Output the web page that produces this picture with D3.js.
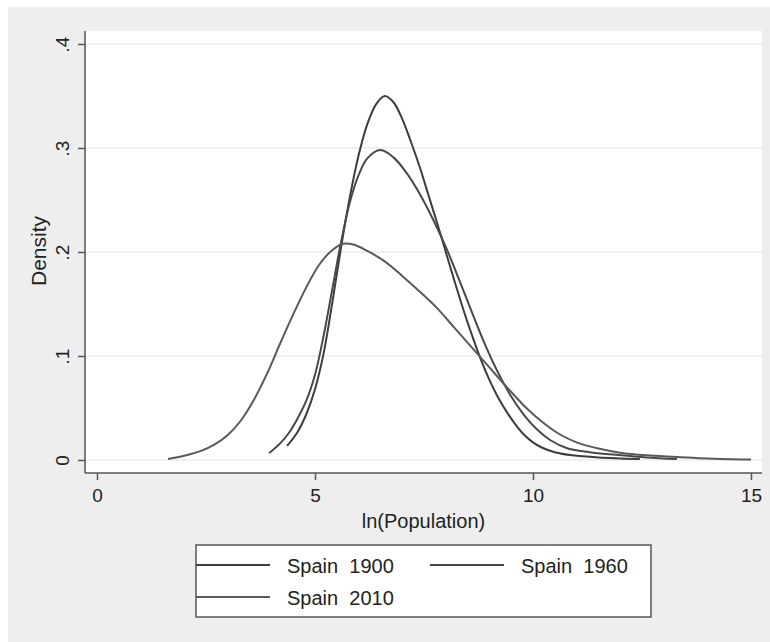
<!DOCTYPE html>
<html lang="en">
<head>
    <meta charset="UTF-8">
    <script src="https://d3js.org/d3.v7.min.js"></script>
    <title>Density</title>
    <style>
        body { margin: 0; background: #ffffff; }
        text { font-family: "Liberation Sans", Arial, sans-serif; fill: #222; }
    </style>
</head>
<body>
    <svg id="chart" width="770" height="642"></svg>

    <script>
        // data: ln(Population) vs density
        const x1900 = [4.36, 4.6, 4.8, 5.0, 5.2, 5.4, 5.6, 5.8, 6.0, 6.2, 6.4, 6.6, 6.8, 7.0, 7.2, 7.4, 7.6, 7.8, 8.0, 8.2, 8.4, 8.6, 8.8, 9.0, 9.2, 9.4, 9.6, 9.8, 10.0, 10.2, 10.5, 10.9, 11.5, 12.45];
        const y1900 = [0.0135, 0.027, 0.044, 0.068, 0.103, 0.152, 0.205, 0.253, 0.293, 0.323, 0.342, 0.35, 0.344, 0.328, 0.306, 0.282, 0.255, 0.228, 0.2, 0.172, 0.145, 0.12, 0.097, 0.077, 0.06, 0.046, 0.034, 0.024, 0.017, 0.012, 0.0075, 0.0045, 0.0025, 0.001];

        const x1960 = [3.95, 4.2, 4.4, 4.6, 4.8, 5.0, 5.2, 5.4, 5.6, 5.8, 6.0, 6.2, 6.5, 6.8, 7.1, 7.4, 7.7, 8.0, 8.3, 8.6, 8.9, 9.2, 9.5, 9.8, 10.1, 10.4, 10.8, 11.3, 11.9, 12.6, 13.3];
        const y1960 = [0.0067, 0.016, 0.026, 0.04, 0.057, 0.082, 0.12, 0.165, 0.21, 0.248, 0.274, 0.29, 0.298, 0.291, 0.276, 0.256, 0.232, 0.205, 0.174, 0.142, 0.111, 0.084, 0.061, 0.043, 0.029, 0.019, 0.011, 0.0075, 0.005, 0.0025, 0.001];

        const x2010 = [1.63, 2.0, 2.4, 2.7, 3.0, 3.3, 3.6, 3.9, 4.2, 4.5, 4.8, 5.1, 5.4, 5.65, 5.9, 6.2, 6.6, 7.0, 7.4, 7.8, 8.2, 8.6, 9.0, 9.4, 9.8, 10.2, 10.6, 11.0, 11.5, 12.0, 12.6, 13.3, 14.0, 15.0];
        const y2010 = [0.001, 0.004, 0.009, 0.015, 0.024, 0.038, 0.058, 0.083, 0.112, 0.14, 0.166, 0.188, 0.202, 0.208, 0.207, 0.201, 0.191, 0.177, 0.162, 0.146, 0.127, 0.108, 0.089, 0.07, 0.052, 0.037, 0.025, 0.017, 0.011, 0.007, 0.0045, 0.003, 0.0015, 0.0005];

        const xTicks = [0, 5, 10, 15];
        const yTicks = [0, 0.1, 0.2, 0.3, 0.4];
        const yTickLabels = ["0", ".1", ".2", ".3", ".4"];

        const seriesNames = ["Spain  1900", "Spain  1960", "Spain  2010"];

        const svg = d3.select("#chart");

        // outer grey background
        svg.append("rect")
            .attr("x", 8).attr("y", 7)
            .attr("width", 762).attr("height", 635)
            .attr("fill", "#eeeeee");

        // plot region
        const plotLeft = 85, plotRight = 762, plotTop = 31, plotBottom = 473;
        svg.append("rect")
            .attr("x", plotLeft).attr("y", plotTop)
            .attr("width", plotRight - plotLeft).attr("height", plotBottom - plotTop)
            .attr("fill", "#ffffff");

        const xScale = d3.scaleLinear().domain([0, 15]).range([97, 751]);
        const yScale = d3.scaleLinear().domain([0, 0.4]).range([460, 44]);

        // grid lines
        svg.append("g")
            .selectAll("line")
            .data(yTicks)
            .enter().append("line")
            .attr("x1", plotLeft).attr("x2", plotRight)
            .attr("y1", d => yScale(d)).attr("y2", d => yScale(d))
            .attr("stroke", "#ebebeb")
            .attr("stroke-width", 1.5);

        // x axis
        const xAxis = d3.axisBottom(xScale)
            .tickValues(xTicks)
            .tickSize(7)
            .tickPadding(9)
            .tickFormat(d3.format("d"));

        const gx = svg.append("g")
            .attr("transform", "translate(0," + plotBottom + ")")
            .call(xAxis);
        gx.select(".domain").remove();
        gx.selectAll("line").attr("stroke", "#555").attr("stroke-width", 1.5);
        gx.selectAll("text")
            .style("font-family", "'Liberation Sans', Arial, sans-serif")
            .style("font-size", "19px")
            .attr("fill", "#222");

        // y axis
        const yAxis = d3.axisLeft(yScale)
            .tickValues(yTicks)
            .tickSize(7)
            .tickFormat((d, i) => yTickLabels[i]);

        const gy = svg.append("g")
            .attr("transform", "translate(" + plotLeft + ",0)")
            .call(yAxis);
        gy.select(".domain").remove();
        gy.selectAll("line").attr("stroke", "#555").attr("stroke-width", 1.5);
        gy.selectAll("text")
            .attr("x", 0).attr("dy", null)
            .attr("transform", "translate(-23,0) rotate(-90)")
            .attr("text-anchor", "middle")
            .attr("dominant-baseline", "central")
            .style("font-family", "'Liberation Sans', Arial, sans-serif")
            .style("font-size", "19px")
            .attr("fill", "#222");

        // axis lines
        svg.append("line")
            .attr("x1", plotLeft).attr("x2", plotLeft)
            .attr("y1", plotTop).attr("y2", plotBottom)
            .attr("stroke", "#555").attr("stroke-width", 1.5);
        svg.append("line")
            .attr("x1", plotLeft).attr("x2", plotRight)
            .attr("y1", plotBottom).attr("y2", plotBottom)
            .attr("stroke", "#555").attr("stroke-width", 1.5);

        // axis titles
        svg.append("text")
            .attr("x", (plotLeft + plotRight) / 2)
            .attr("y", 528)
            .attr("text-anchor", "middle")
            .style("font-size", "20px")
            .text("ln(Population)");

        svg.append("text")
            .attr("transform", "translate(46,251) rotate(-90)")
            .attr("text-anchor", "middle")
            .style("font-size", "21px")
            .text("Density");

        // curves
        const line = d3.line()
            .x(d => xScale(d[0]))
            .y(d => yScale(d[1]))
            .curve(d3.curveCatmullRom.alpha(0.5));

        const series = [
            { xs: x1900, ys: y1900, color: "#3d3d3d" },
            { xs: x1960, ys: y1960, color: "#484848" },
            { xs: x2010, ys: y2010, color: "#5a5a5a" }
        ];

        series.forEach(s => {
            const pts = s.xs.map((x, i) => [x, s.ys[i]]);
            svg.append("path")
                .datum(pts)
                .attr("d", line)
                .attr("fill", "none")
                .attr("stroke", s.color)
                .attr("stroke-width", 2);
        });

        // legend
        svg.append("rect")
            .attr("x", 196).attr("y", 545)
            .attr("width", 455).attr("height", 72)
            .attr("fill", "#ffffff")
            .attr("stroke", "#555")
            .attr("stroke-width", 1.5);

        const legendItems = [
            { x: 196, y: 565 },
            { x: 430, y: 565 },
            { x: 196, y: 597 }
        ];

        legendItems.forEach((p, i) => {
            svg.append("line")
                .attr("x1", p.x).attr("x2", p.x + 74)
                .attr("y1", p.y).attr("y2", p.y)
                .attr("stroke", series[i].color)
                .attr("stroke-width", 2);
            svg.append("text")
                .attr("x", p.x + 91)
                .attr("y", p.y + 8)
                .style("font-size", "20px")
                .style("white-space", "pre")
                .text(seriesNames[i]);
        });
    </script>
</body>
</html>
